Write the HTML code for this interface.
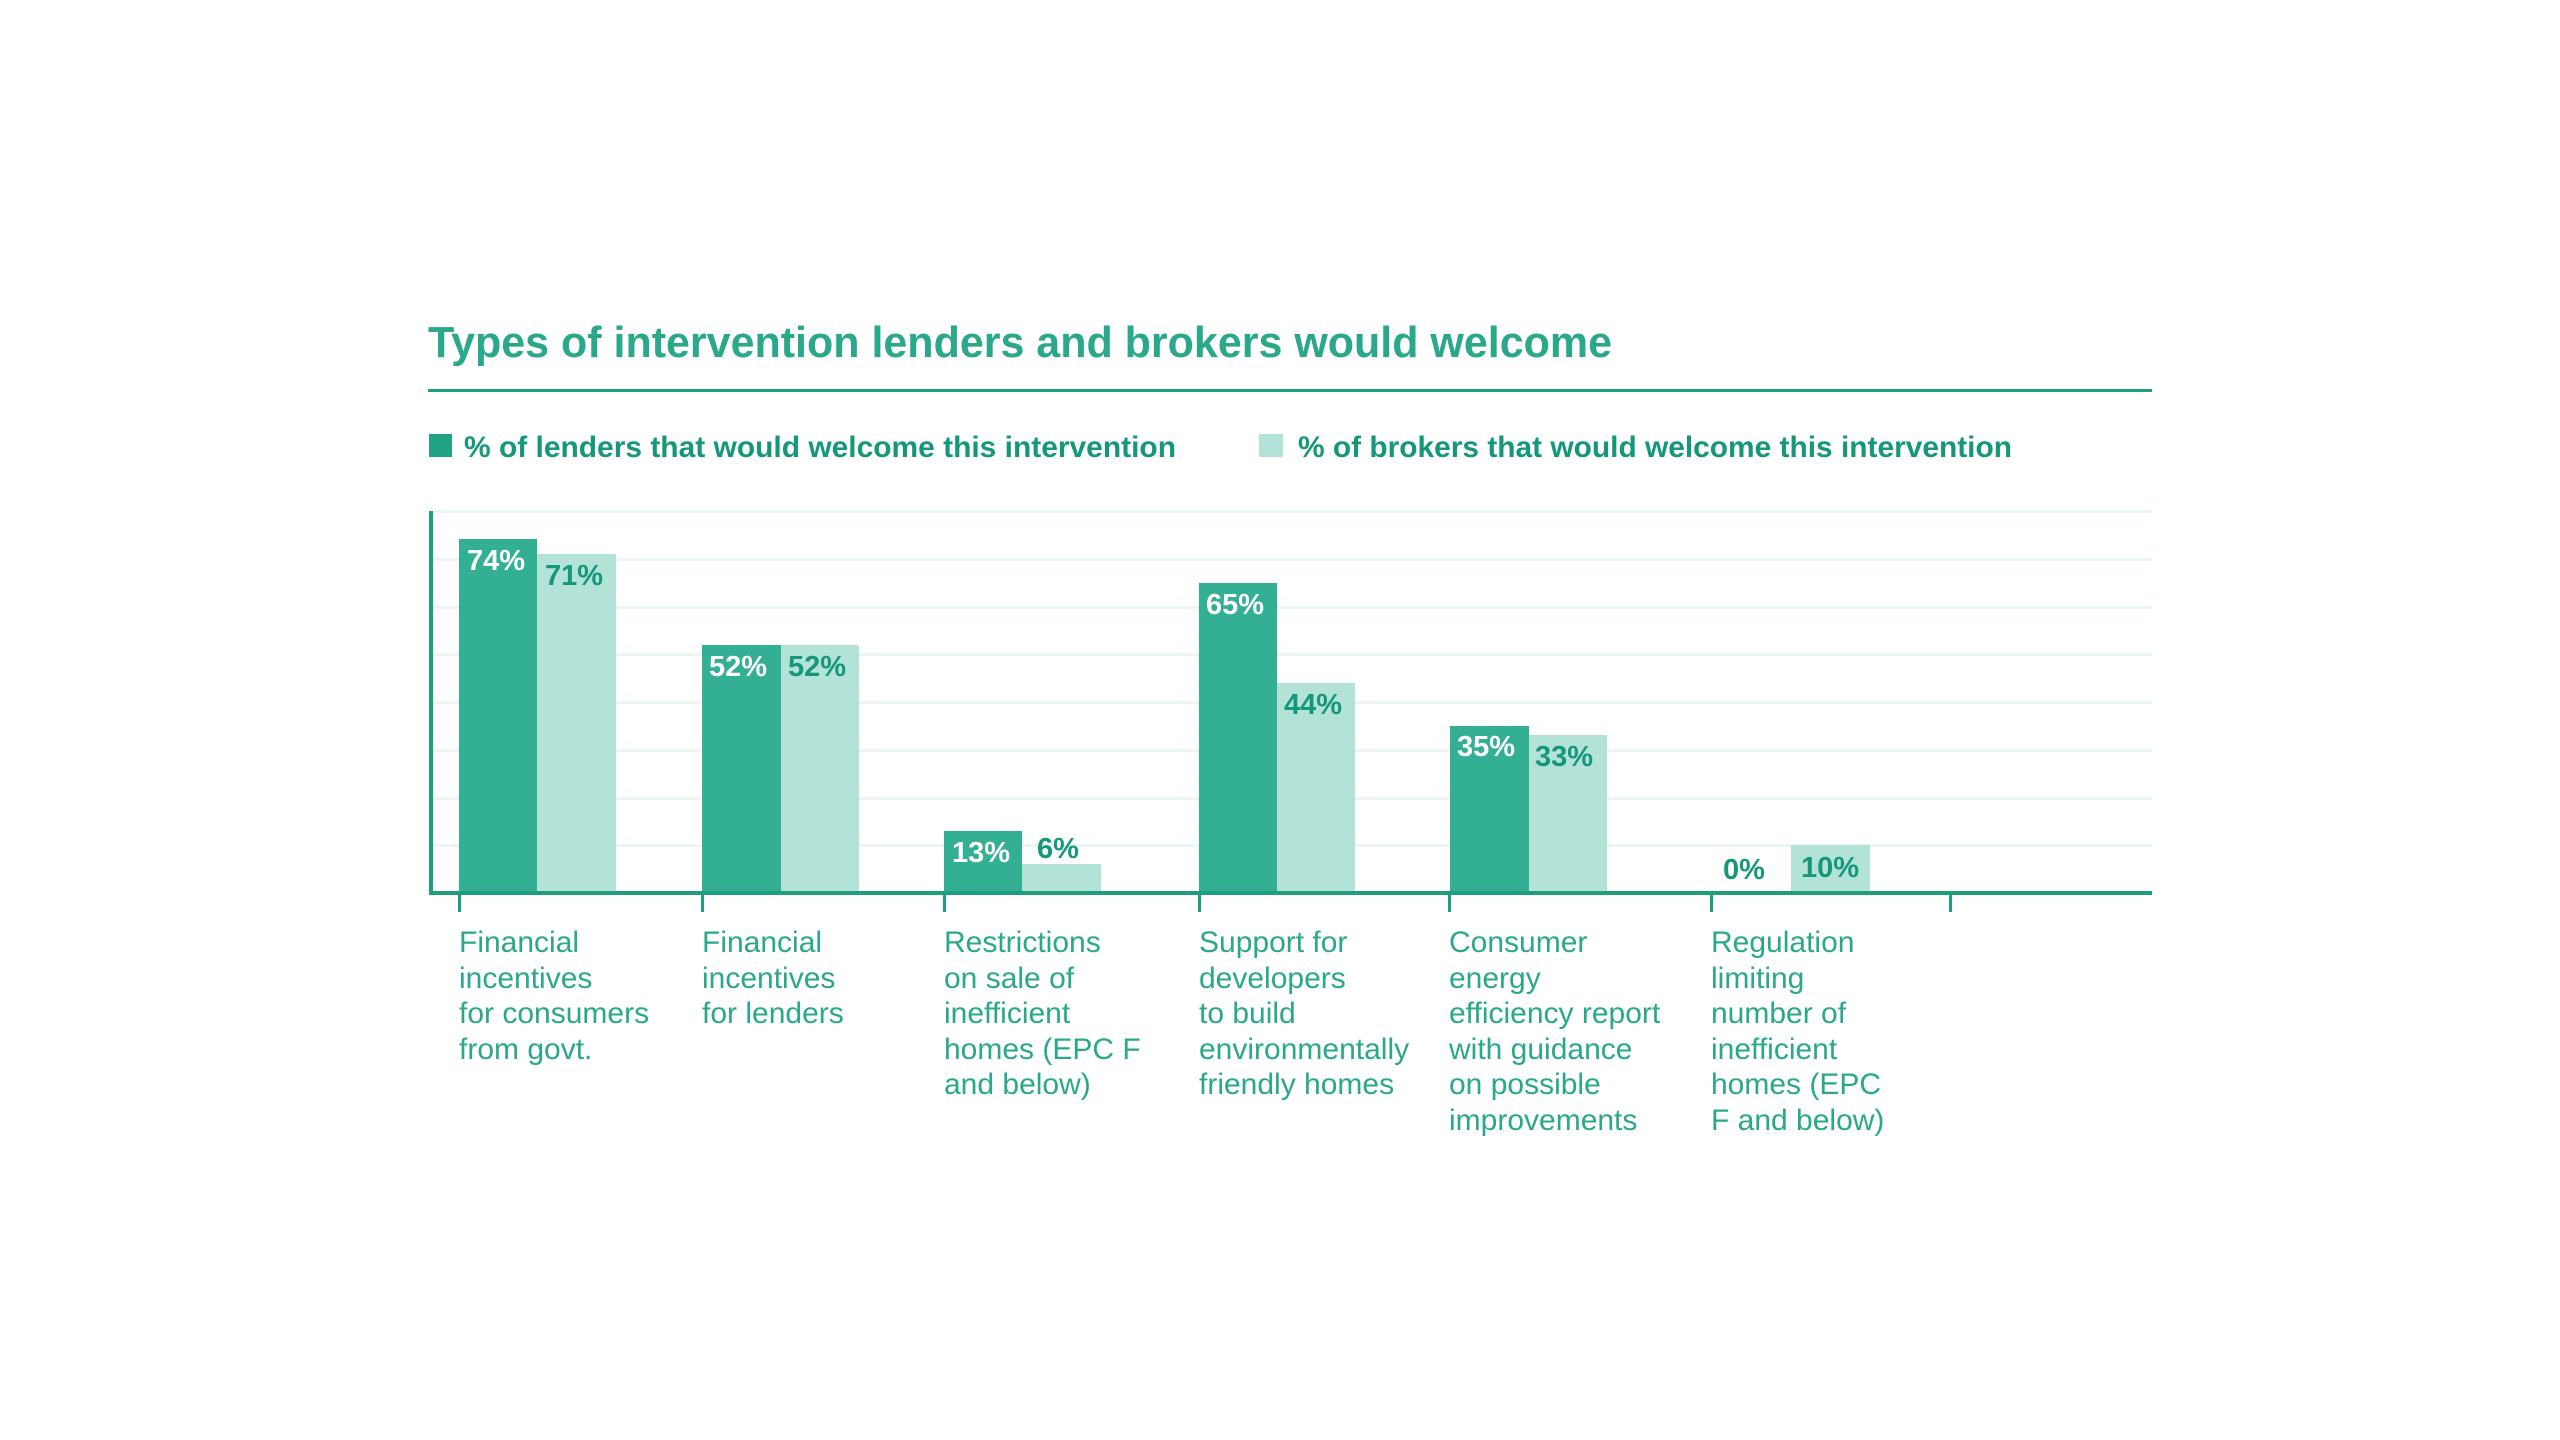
<!DOCTYPE html>
<html><head><meta charset="utf-8"><style>
html,body{margin:0;padding:0;background:#fff;}
svg{display:block;}
text{font-family:"Liberation Sans",sans-serif;}
</style></head><body>
<svg width="2560" height="1440" viewBox="0 0 2560 1440" xmlns="http://www.w3.org/2000/svg">
<rect width="2560" height="1440" fill="#fff"/>
<text x="428" y="357" font-size="44" font-weight="bold" fill="#2aa88a" textLength="1184" lengthAdjust="spacingAndGlyphs">Types of intervention lenders and brokers would welcome</text>
<rect x="428" y="389" width="1724" height="3" fill="#1e9e7c"/>
<rect x="429" y="434" width="23" height="23" fill="#1fa383"/>
<text x="464" y="457" font-size="30" font-weight="bold" fill="#15977a" textLength="712" lengthAdjust="spacingAndGlyphs">% of lenders that would welcome this intervention</text>
<rect x="1259" y="434" width="24" height="23" fill="#b2e2d8"/>
<text x="1298" y="457" font-size="30" font-weight="bold" fill="#15977a" textLength="714" lengthAdjust="spacingAndGlyphs">% of brokers that would welcome this intervention</text>
<g fill="#eaf6f2">
<rect x="432" y="510" width="1720" height="3"/>
<rect x="432" y="558" width="1720" height="3"/>
<rect x="432" y="606" width="1720" height="3"/>
<rect x="432" y="653" width="1720" height="3"/>
<rect x="432" y="701" width="1720" height="3"/>
<rect x="432" y="749" width="1720" height="3"/>
<rect x="432" y="797" width="1720" height="3"/>
<rect x="432" y="844" width="1720" height="3"/>
</g>
<g fill="#33b093">
<rect x="459" y="539" width="78" height="354"/>
<rect x="702" y="645" width="79" height="248"/>
<rect x="944" y="831" width="78" height="62"/>
<rect x="1199" y="583" width="78" height="310"/>
<rect x="1450" y="726" width="79" height="167"/>
</g>
<g fill="#b2e2d8">
<rect x="537" y="554" width="79" height="339"/>
<rect x="781" y="645" width="78" height="248"/>
<rect x="1022" y="864" width="79" height="29"/>
<rect x="1277" y="683" width="78" height="210"/>
<rect x="1529" y="735" width="78" height="158"/>
<rect x="1791" y="845" width="79" height="48"/>
</g>
<rect x="429" y="511" width="4" height="384" fill="#1e9e7c"/>
<rect x="429" y="891" width="1723" height="4" fill="#1e9e7c"/>
<g fill="#1e9e7c">
<rect x="458" y="893" width="3" height="19"/>
<rect x="701" y="893" width="3" height="19"/>
<rect x="943" y="893" width="3" height="19"/>
<rect x="1198" y="893" width="3" height="19"/>
<rect x="1448" y="893" width="3" height="19"/>
<rect x="1710" y="893" width="3" height="19"/>
<rect x="1949" y="893" width="3" height="19"/>
</g>
<g font-size="29" font-weight="bold">
<text x="467" y="570" fill="#fff">74%</text>
<text x="545" y="585" fill="#15977a">71%</text>
<text x="709" y="676" fill="#fff">52%</text>
<text x="788" y="676" fill="#15977a">52%</text>
<text x="952" y="862" fill="#fff">13%</text>
<text x="1037" y="858" fill="#15977a">6%</text>
<text x="1206" y="614" fill="#fff">65%</text>
<text x="1284" y="714" fill="#15977a">44%</text>
<text x="1457" y="756" fill="#fff">35%</text>
<text x="1535" y="766" fill="#15977a">33%</text>
<text x="1723" y="879" fill="#15977a">0%</text>
<text x="1801" y="877" fill="#15977a">10%</text>
</g>
<g font-size="30" fill="#2aa88a">
<text x="459" y="952">Financial</text><text x="459" y="988">incentives</text><text x="459" y="1023">for consumers</text><text x="459" y="1059">from govt.</text>
<text x="702" y="952">Financial</text><text x="702" y="988">incentives</text><text x="702" y="1023">for lenders</text>
<text x="944" y="952">Restrictions</text><text x="944" y="988">on sale of</text><text x="944" y="1023">inefficient</text><text x="944" y="1059">homes (EPC F</text><text x="944" y="1094">and below)</text>
<text x="1199" y="952">Support for</text><text x="1199" y="988">developers</text><text x="1199" y="1023">to build</text><text x="1199" y="1059">environmentally</text><text x="1199" y="1094">friendly homes</text>
<text x="1449" y="952">Consumer</text><text x="1449" y="988">energy</text><text x="1449" y="1023">efficiency report</text><text x="1449" y="1059">with guidance</text><text x="1449" y="1094">on possible</text><text x="1449" y="1130">improvements</text>
<text x="1711" y="952">Regulation</text><text x="1711" y="988">limiting</text><text x="1711" y="1023">number of</text><text x="1711" y="1059">inefficient</text><text x="1711" y="1094">homes (EPC</text><text x="1711" y="1130">F and below)</text>
</g>
</svg>
</body></html>
